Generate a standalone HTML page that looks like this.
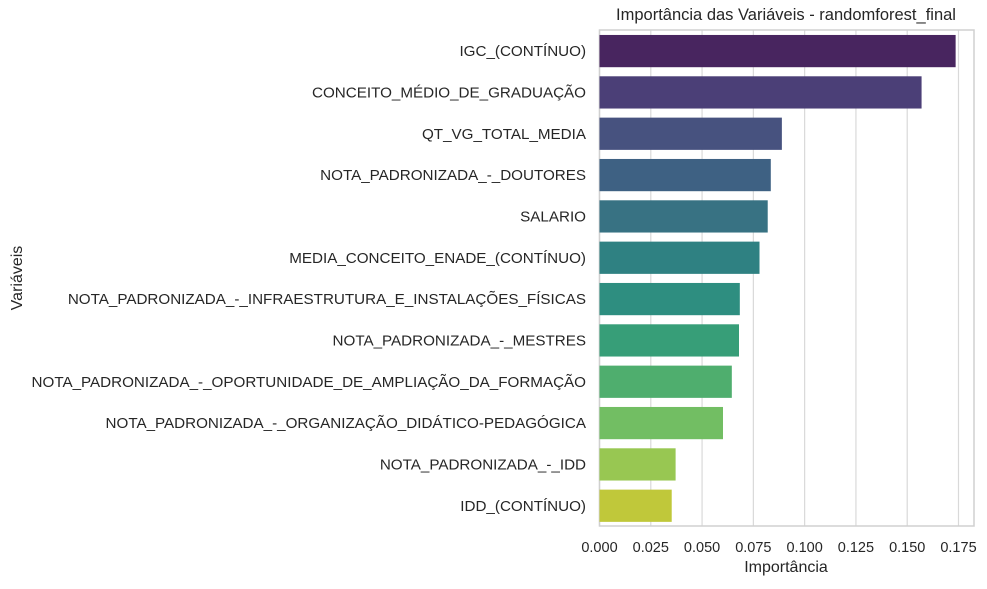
<!DOCTYPE html>
<html><head><meta charset="utf-8"><style>
body{margin:0;background:#fff;font-family:"Liberation Sans",sans-serif;}
svg text{font-family:"Liberation Sans",sans-serif;fill:#262626;}
</style></head><body>
<svg id="chart" width="987" height="584">
<text x="786" y="20" font-size="16.5" text-anchor="middle">Importância das Variáveis - randomforest_final</text>
<text transform="translate(22,278) rotate(-90)" font-size="16" text-anchor="middle">Variáveis</text>
<text x="786" y="572" font-size="16" text-anchor="middle">Importância</text>
<g id="grid"></g><g id="bars"></g><g id="labels"></g>
</svg>
<script>
const categories=["IGC_(CONTÍNUO)","CONCEITO_MÉDIO_DE_GRADUAÇÃO","QT_VG_TOTAL_MEDIA","NOTA_PADRONIZADA_-_DOUTORES","SALARIO","MEDIA_CONCEITO_ENADE_(CONTÍNUO)","NOTA_PADRONIZADA_-_INFRAESTRUTURA_E_INSTALAÇÕES_FÍSICAS","NOTA_PADRONIZADA_-_MESTRES","NOTA_PADRONIZADA_-_OPORTUNIDADE_DE_AMPLIAÇÃO_DA_FORMAÇÃO","NOTA_PADRONIZADA_-_ORGANIZAÇÃO_DIDÁTICO-PEDAGÓGICA","NOTA_PADRONIZADA_-_IDD","IDD_(CONTÍNUO)"];
const values=[0.1736,0.157,0.0889,0.0835,0.082,0.078,0.0684,0.068,0.0645,0.0602,0.0371,0.0352];
const ticks=[0,0.025,0.05,0.075,0.1,0.125,0.15,0.175];
const tickLabels=["0.000","0.025","0.050","0.075","0.100","0.125","0.150","0.175"];
const colors=['#48255f','#4b3f77','#47527f','#3e6183','#387283','#2f8182','#2e8e80','#379e78','#4fae6e','#72be63','#98c752','#c0c83a'];
const L=599.5,R=974,T=30,B=526;
const x=v=>L+v*(958.5-L)/0.175;
const band=(B-T)/categories.length;
const y=i=>T+i*band;
const ns="http://www.w3.org/2000/svg";
const g=document.getElementById('grid'),b=document.getElementById('bars'),lb=document.getElementById('labels');
function mk(tag,a,p){const e=document.createElementNS(ns,tag);for(const k in a)e.setAttribute(k,a[k]);p.appendChild(e);return e;}
ticks.forEach((t,i)=>{
 const ln=mk('line',{x1:x(t),x2:x(t),y1:T,y2:B,stroke:'#d9d9d9','stroke-width':1.2},g);
 
 
 const tx=mk('text',{x:x(t),y:552,'font-size':14.5,'text-anchor':'middle'},lb);
 tx.textContent=tickLabels[i];
 
 
});
categories.forEach((c,i)=>{
 const r=mk('rect',{x:L,y:y(i)+band*0.12,width:x(values[i])-L,height:band*0.78,fill:colors[i]},b);
 
 
 const tx=mk('text',{x:586,y:y(i)+band/2+5.5,'font-size':15.2,'text-anchor':'end'},lb);
 tx.textContent=c;
 
 
});
const fr=mk('rect',{x:L,y:T,width:R-L,height:B-T,fill:'none',stroke:'#d0d0d0','stroke-width':1.5},g);


</script>
</body></html>
